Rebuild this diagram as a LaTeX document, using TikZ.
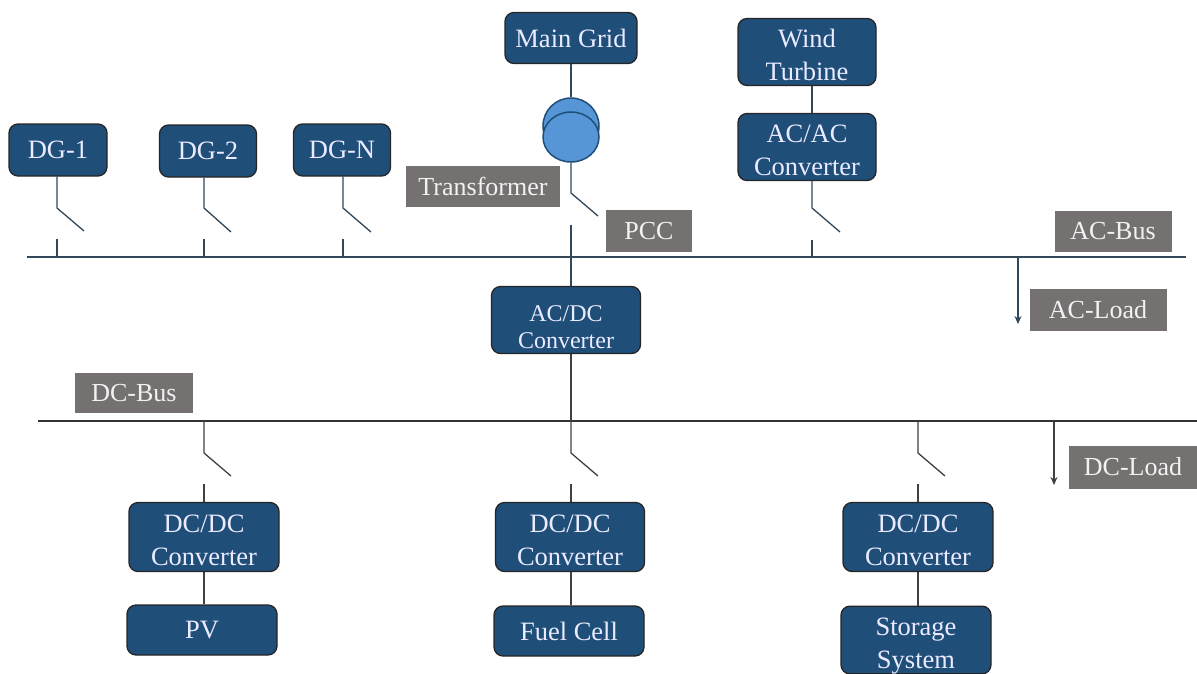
\documentclass[tikz,border=0pt]{standalone}
\usepackage{fontspec}
\setmainfont{Liberation Serif}
\usepackage{tikz}
\definecolor{boxblue}{RGB}{31,78,121}
\definecolor{tagrey}{RGB}{118,113,113}
\definecolor{tfblue}{RGB}{86,150,215}
\definecolor{wire}{RGB}{50,72,90}
\tikzset{
  unit/.style={draw=black!85, line width=1.3pt, rounded corners=9pt, fill=boxblue, text=white!92!blue,
    font=\fontsize{26.5}{33}\selectfont, align=center, inner sep=0pt},
  twoline/.style={text height=57pt},
  tag/.style={fill=tagrey, text=white!95!black, font=\fontsize{26}{30}\selectfont, inner sep=0pt},
  tfcoil/.style={ellipse, draw=boxblue, line width=1.5pt, fill=tfblue, inner sep=0pt},
  wire/.style={draw=wire, line width=1.3pt},
  dcwire/.style={draw=black!75, line width=1.3pt},
  bus/.style={draw=wire, line width=2pt},
}
\usetikzlibrary{shapes.geometric, arrows.meta}
\begin{document}
\begin{tikzpicture}[x=1pt, y=-1pt]
    \useasboundingbox (0, 0) rectangle (1197, 673);
    % sources
    \node [unit, minimum width=98pt, minimum height=52pt] (dg1) at (58, 150) {DG-1};
    \node [unit, minimum width=97pt, minimum height=52pt] (dg2) at (208, 151) {DG-2};
    \node [unit, minimum width=97pt, minimum height=52pt] (dgn) at (342, 150) {DG-N};
    \node [unit, minimum width=132pt, minimum height=51pt] (grid) at (571, 38) {Main Grid};
    \node [unit, twoline, minimum width=138pt, minimum height=67pt] (wind) at (807, 52) {Wind\\Turbine};
    \node [unit, twoline, minimum width=138pt, minimum height=67pt] (acac) at (807, 147) {AC/AC\\Converter};
    % transformer
    \node [tfcoil, minimum width=56pt, minimum height=56pt] (tfa) at (571, 126) {};
    \node [tfcoil, minimum width=56pt, minimum height=50pt] (tfb) at (571, 137) {};
    % AC bus
    \coordinate (acl) at (27, 257);
    \coordinate (acr) at (1186, 257);
    \draw [bus] (acl) -- (acr);
    % AC side switches
    \coordinate (dg1p) at (57, 208);   \coordinate (dg1e) at (84, 231);
    \coordinate (dg1s) at (57, 239);   \coordinate (dg1b) at (57, 257);
    \coordinate (dg2p) at (204, 208);  \coordinate (dg2e) at (231, 232);
    \coordinate (dg2s) at (204, 239);  \coordinate (dg2b) at (204, 257);
    \coordinate (dgnp) at (343, 208);  \coordinate (dgne) at (371, 232);
    \coordinate (dgns) at (343, 239);  \coordinate (dgnb) at (343, 257);
    \coordinate (pccp) at (571, 193);  \coordinate (pcce) at (598, 216);
    \coordinate (pccs) at (571, 225);
    \coordinate (acacp) at (812, 208); \coordinate (acace) at (840, 232);
    \coordinate (acacs) at (812, 240); \coordinate (acacb) at (812, 257);
    \draw [wire] (dg1.south -| dg1p) -- (dg1p) -- (dg1e);
    \draw [wire] (dg1s) -- (dg1b);
    \draw [wire] (dg2.south -| dg2p) -- (dg2p) -- (dg2e);
    \draw [wire] (dg2s) -- (dg2b);
    \draw [wire] (dgn.south -| dgnp) -- (dgnp) -- (dgne);
    \draw [wire] (dgns) -- (dgnb);
    \draw [wire] (acac.south -| acacp) -- (acacp) -- (acace);
    \draw [wire] (acacs) -- (acacb);
    \draw [wire] (wind.south -| acacp) -- (acac.north -| acacp);
    % grid branch
    \draw [wire] (grid) -- (tfa);
    \draw [wire] (tfb.south) -- (pccp) -- (pcce);
    % converter between the buses
    \node [unit, twoline, minimum width=149pt, minimum height=67pt, font=\fontsize{24}{27}\selectfont] (acdc) at (566, 320) {AC/DC\\Converter};
    \draw [wire] (pccs) -- (pccs |- acdc.north);
    % DC bus
    \coordinate (dcl) at (38, 421);
    \coordinate (dcr) at (1197, 421);
    \draw [bus, draw=black!80] (dcl) -- (dcr);
    \coordinate (acdcb) at (571, 421);
    \draw [dcwire] (acdc.south -| acdcb) -- (acdcb);
    % DC side units
    \node [unit, twoline, minimum width=150pt, minimum height=69pt] (dcdca) at (204, 537) {DC/DC\\Converter};
    \node [unit, twoline, minimum width=149pt, minimum height=69pt] (dcdcb) at (570, 537) {DC/DC\\Converter};
    \node [unit, twoline, minimum width=150pt, minimum height=69pt] (dcdcc) at (918, 537) {DC/DC\\Converter};
    \node [unit, minimum width=150pt, minimum height=50pt] (pv) at (202, 630) {PV};
    \node [unit, minimum width=150pt, minimum height=50pt] (fuel) at (569, 631) {Fuel Cell};
    \node [unit, minimum width=150pt, minimum height=67pt, text height=62pt] (store) at (916, 640) {Storage\\System};
    % DC side switches
    \coordinate (pvb) at (204, 421);   \coordinate (pvp) at (204, 453);
    \coordinate (pve) at (231, 476);   \coordinate (pvs) at (204, 484);
    \coordinate (fuelb) at (571, 421); \coordinate (fuelp) at (571, 453);
    \coordinate (fuele) at (598, 476); \coordinate (fuels) at (571, 484);
    \coordinate (storeb) at (918, 421); \coordinate (storep) at (918, 453);
    \coordinate (storee) at (945, 476); \coordinate (stores) at (918, 484);
    \draw [dcwire] (pvb) -- (pvp) -- (pve);
    \draw [dcwire] (pvs) -- (pvs |- dcdca.north);
    \draw [dcwire] (fuelb) -- (fuelp) -- (fuele);
    \draw [dcwire] (fuels) -- (fuels |- dcdcb.north);
    \draw [dcwire] (storeb) -- (storep) -- (storee);
    \draw [dcwire] (stores) -- (stores |- dcdcc.north);
    \draw [dcwire] (pvb |- dcdca.south) -- (pvb |- pv.north);
    \draw [dcwire] (fuelb |- dcdcb.south) -- (fuelb |- fuel.north);
    \draw [dcwire] (storeb |- dcdcc.south) -- (storeb |- store.north);
    % loads
    \coordinate (aclb) at (1018, 257); \coordinate (acle) at (1018, 324);
    \coordinate (dclb) at (1054, 421); \coordinate (dcle) at (1054, 485);
    \draw [wire, -{Stealth[length=8pt, width=7pt]}] (aclb) -- (acle);
    \draw [dcwire, -{Stealth[length=8pt, width=7pt]}] (dclb) -- (dcle);
    % labels
    \node [tag, minimum width=154pt, minimum height=41pt] (tftag) at (483, 186) {Transformer};
    \node [tag, minimum width=86pt, minimum height=42pt] (pcc) at (649, 231) {PCC};
    \node [tag, minimum width=117pt, minimum height=41pt] (acbus) at (1113, 231) {AC-Bus};
    \node [tag, minimum width=137pt, minimum height=42pt] (acload) at (1098, 310) {AC-Load};
    \node [tag, minimum width=118pt, minimum height=40pt] (dcbus) at (134, 393) {DC-Bus};
    \node [tag, minimum width=129pt, minimum height=43pt] (dcload) at (1133, 467) {DC-Load};
\end{tikzpicture}
\end{document}
